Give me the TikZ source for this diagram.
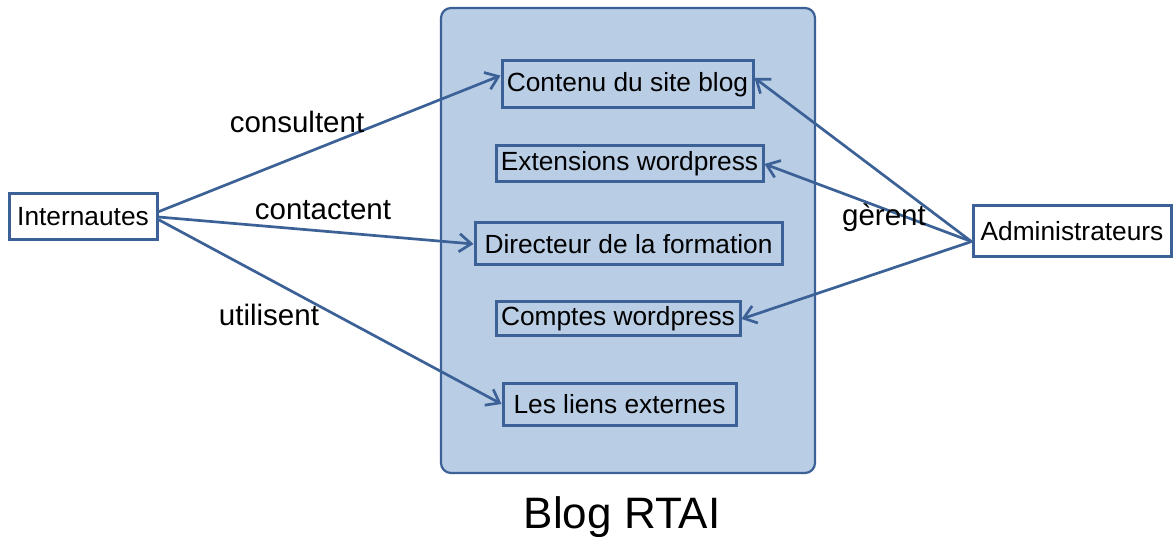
\documentclass[tikz,border=0pt]{standalone}
\usepackage{fontspec}
\setmainfont{Liberation Sans}
\usetikzlibrary{arrows.meta}
\definecolor{bleu}{HTML}{3B6196}
\definecolor{fond}{HTML}{B9CDE5}
\tikzset{
	boite/.style={draw=bleu, line width=3pt, inner sep=0pt, font=\fontsize{26.3}{30}\selectfont},
	fleche/.style={draw=bleu, line width=2.7pt, -{Straight Barb[length=12pt,width=18pt]}},
	etiq/.style={anchor=base, inner sep=0pt, font=\fontsize{29.5}{34}\selectfont}
}
\begin{document}
\begin{tikzpicture}[x=1pt,y=-1pt]
		\useasboundingbox (0,0) rectangle (1173,537);
		\node[draw=bleu, fill=fond, line width=2.2pt, rounded corners=10pt, minimum width=374, minimum height=465] (blog) at (628,240.5) {};
		\node[anchor=base, inner sep=0pt, font=\fontsize{44}{50}\selectfont] (titre) at (622,528) {Blog RTAI};
		\node[boite, minimum width=251, minimum height=47] (cont) at (627.5,84.5) {Contenu du site blog};
		\node[boite, minimum width=267, minimum height=36] (ext) at (629.5,164) {Extensions wordpress};
		\node[boite, minimum width=307, minimum height=42] (dir) at (628.5,244) {Directeur de la formation};
		\node[boite, minimum width=244, minimum height=34] (cpt) at (618,319) {Comptes wordpress};
		\node[boite, minimum width=233, minimum height=42] (lie) at (619.5,404) {Les liens externes};
		\node[boite, fill=white, minimum width=148, minimum height=46] (int) at (83,217) {Internautes};
		\node[boite, fill=white, minimum width=198, minimum height=51] (adm) at (1072,231) {Administrateurs};
		\draw[fleche] (int.4) -- (cont.176);
		\draw[fleche] (int.east) -- (dir.west);
		\draw[fleche] (int.-2) -- (lie.west);
		\draw[fleche] (adm.186) -- (cont.3);
		\draw[fleche] (adm.186) -- (ext.east);
		\draw[fleche] (adm.186) -- (cpt.east);
		\node[etiq] (l1) at (297,133) {consultent};
		\node[etiq] (l2) at (323,220) {contactent};
		\node[etiq] (l3) at (269,326) {utilisent};
		\node[etiq] (l4) at (884,226) {gèrent};
\end{tikzpicture}
\end{document}
